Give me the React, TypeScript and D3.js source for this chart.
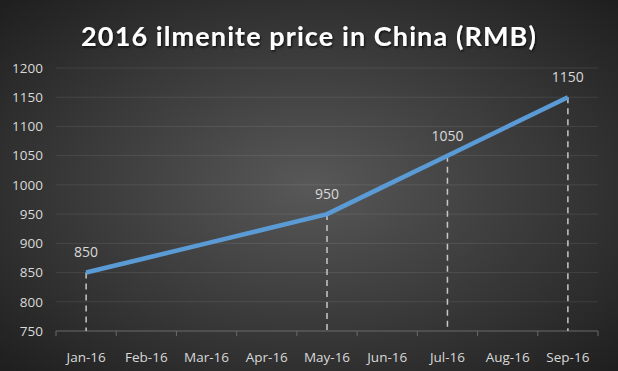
import React, { useRef, useEffect } from "react";
import * as d3 from "d3";

const months = ["Jan-16", "Feb-16", "Mar-16", "Apr-16", "May-16", "Jun-16", "Jul-16", "Aug-16", "Sep-16"];
const prices = [850, 875, 900, 925, 950, 1000, 1050, 1100, 1150];
const labelled = ["Jan-16", "May-16", "Jul-16", "Sep-16"];
const yTicks = [750, 800, 850, 900, 950, 1000, 1050, 1100, 1150, 1200];

const W = 618;
const H = 371;

export default function App() {
  const ref = useRef<SVGSVGElement>(null);

  useEffect(() => {
    const svg = d3.select(ref.current);
    svg.selectAll("*").remove();

    const margin = { top: 68, right: 20, bottom: 40, left: 56 };
    const innerW = 598 - margin.left;
    const innerH = 331 - margin.top;

    // 背景
    const defs = svg.append("defs");
    const grad = defs
      .append("radialGradient")
      .attr("id", "bg")
      .attr("cx", "50%")
      .attr("cy", "50%")
      .attr("r", "70%");
    grad.append("stop").attr("offset", "0%").attr("stop-color", "#585858");
    grad.append("stop").attr("offset", "100%").attr("stop-color", "#1f1f1f");

    const shadow = defs.append("filter").attr("id", "ts");
    shadow
      .append("feDropShadow")
      .attr("dx", 1)
      .attr("dy", 1.5)
      .attr("stdDeviation", 1.2)
      .attr("flood-color", "#000")
      .attr("flood-opacity", 0.7);

    svg.append("rect").attr("width", W).attr("height", H).attr("fill", "url(#bg)");

    svg
      .append("text")
      .attr("x", 309)
      .attr("y", 46)
      .attr("text-anchor", "middle")
      .attr("fill", "#ffffff")
      .attr("font-family", "Lato, 'Open Sans', sans-serif")
      .attr("font-weight", 700)
      .attr("font-size", 27)
      .attr("letter-spacing", 1.1)
      .attr("filter", "url(#ts)")
      .text("2016 ilmenite price in China (RMB)");

    const g = svg.append("g").attr("transform", `translate(${margin.left},${margin.top})`);

    const x = d3.scaleBand().domain(months).range([0, innerW]);
    const y = d3.scaleLinear().domain([750, 1200]).range([innerH, 0]);

    // グリッド
    g.selectAll(".grid")
      .data(yTicks.slice(1))
      .enter()
      .append("line")
      .attr("x1", 0)
      .attr("x2", innerW)
      .attr("y1", (d) => y(d))
      .attr("y2", (d) => y(d))
      .attr("stroke", "#ffffff")
      .attr("stroke-opacity", 0.09)
      .attr("stroke-width", 1);

    // y軸ラベル
    g.selectAll(".ylab")
      .data(yTicks)
      .enter()
      .append("text")
      .attr("x", -13)
      .attr("y", (d) => y(d))
      .attr("dy", "0.35em")
      .attr("text-anchor", "end")
      .attr("fill", "#d9d9d9")
      .attr("font-family", "'Open Sans', sans-serif")
      .attr("font-size", 13.5)
      .text((d) => d);

    // x軸
    g.append("line")
      .attr("x1", 0)
      .attr("x2", innerW)
      .attr("y1", innerH)
      .attr("y2", innerH)
      .attr("stroke", "#6a6a6a")
      .attr("stroke-width", 1);

    const bounds = months.map((m) => x(m)!).concat([innerW]);
    g.selectAll(".xtick")
      .data(bounds)
      .enter()
      .append("line")
      .attr("x1", (d) => d)
      .attr("x2", (d) => d)
      .attr("y1", innerH)
      .attr("y2", innerH + 5)
      .attr("stroke", "#6a6a6a");

    g.selectAll(".xlab")
      .data(months)
      .enter()
      .append("text")
      .attr("x", (d) => x(d)! + x.bandwidth() / 2)
      .attr("y", innerH + 26)
      .attr("dy", "0.35em")
      .attr("text-anchor", "middle")
      .attr("fill", "#d9d9d9")
      .attr("font-family", "'Open Sans', sans-serif")
      .attr("font-size", 13.5)
      .text((d) => d);

    const cx = (m: string) => x(m)! + x.bandwidth() / 2;

    // 点線
    const pts = months.map((m, i) => ({ m, v: prices[i] }));
    const marked = pts.filter((p) => labelled.includes(p.m));
    g.selectAll(".drop")
      .data(marked)
      .enter()
      .append("line")
      .attr("x1", (d) => cx(d.m))
      .attr("x2", (d) => cx(d.m))
      .attr("y1", (d) => y(d.v))
      .attr("y2", innerH)
      .attr("stroke", "#c8c8c8")
      .attr("stroke-width", 1.5)
      .attr("stroke-dasharray", "6,5");

    // 折れ線
    const line = d3
      .line<{ m: string; v: number }>()
      .x((d) => cx(d.m))
      .y((d) => y(d.v));

    g.append("path")
      .datum(pts)
      .attr("d", line)
      .attr("fill", "none")
      .attr("stroke", "#5b9bd5")
      .attr("stroke-width", 4.5)
      .attr("stroke-linejoin", "round");

    g.selectAll(".dlab")
      .data(marked)
      .enter()
      .append("text")
      .attr("x", (d) => cx(d.m))
      .attr("y", (d) => y(d.v) - 20)
      .attr("dy", "0.35em")
      .attr("text-anchor", "middle")
      .attr("fill", "#d9d9d9")
      .attr("font-family", "'Open Sans', sans-serif")
      .attr("font-size", 14)
      .text((d) => d.v);
  }, []);

  return (
    <svg
      ref={ref}
      width={W}
      height={H}
      style={{ position: "absolute", left: 0, top: 0, display: "block" }}
    />
  );
}
